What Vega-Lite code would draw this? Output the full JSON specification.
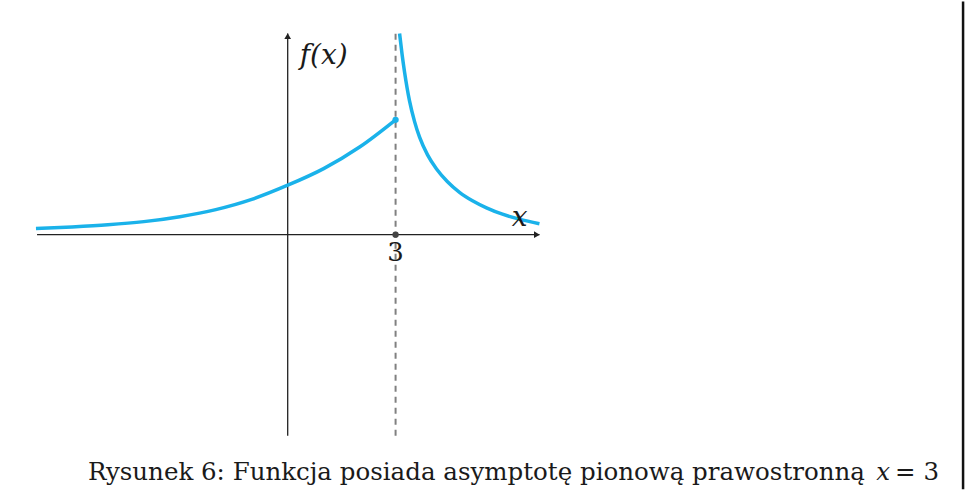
{
  "$schema": "https://vega.github.io/schema/vega-lite/v6.json",
  "width": 965,
  "height": 491,
  "autosize": {"type": "fit", "contains": "padding"},
  "padding": 0,
  "background": "white",
  "config": {"view": {"stroke": null}},
  "datasets": {
    "curve": [
      {"seg": "left", "x": -7, "y": 0.175},
      {"seg": "left", "x": -6, "y": 0.22},
      {"seg": "left", "x": -5, "y": 0.28},
      {"seg": "left", "x": -4, "y": 0.37},
      {"seg": "left", "x": -3, "y": 0.51},
      {"seg": "left", "x": -2, "y": 0.71},
      {"seg": "left", "x": -1, "y": 1.0},
      {"seg": "left", "x": 0, "y": 1.4},
      {"seg": "left", "x": 1, "y": 1.87},
      {"seg": "left", "x": 2, "y": 2.48},
      {"seg": "left", "x": 3, "y": 3.25},
      {"seg": "right", "x": 3.111, "y": 5.694},
      {"seg": "right", "x": 3.181, "y": 5.1},
      {"seg": "right", "x": 3.25, "y": 4.6},
      {"seg": "right", "x": 3.389, "y": 3.78},
      {"seg": "right", "x": 3.528, "y": 3.2},
      {"seg": "right", "x": 3.667, "y": 2.76},
      {"seg": "right", "x": 3.889, "y": 2.26},
      {"seg": "right", "x": 4.139, "y": 1.86},
      {"seg": "right", "x": 4.444, "y": 1.5},
      {"seg": "right", "x": 4.778, "y": 1.2},
      {"seg": "right", "x": 5.139, "y": 0.96},
      {"seg": "right", "x": 5.528, "y": 0.76},
      {"seg": "right", "x": 5.972, "y": 0.58},
      {"seg": "right", "x": 6.444, "y": 0.44},
      {"seg": "right", "x": 7.0, "y": 0.31}
    ],
    "axes": [
      {"x": -6.97, "y": 0, "x2": 7.0, "y2": 0},
      {"x": 0, "y": -5.69, "x2": 0, "y2": 5.69}
    ],
    "asym": [
      {"x": 3, "y": -5.69, "x2": 3, "y2": 5.69}
    ],
    "border": [
      {"x": 18.78, "y": -7.2, "x2": 18.78, "y2": 6.6}
    ],
    "arrows": [
      {"x": 6.93, "y": 0, "shape": "triangle-right"},
      {"x": 0, "y": 5.62, "shape": "triangle-up"}
    ],
    "dots": [
      {"x": 3, "y": 3.25, "kind": "value"},
      {"x": 3, "y": 0, "kind": "axis"}
    ],
    "italiclabels": [
      {"x": 1.0, "y": 5.05, "text": "f(x)"},
      {"x": 6.45, "y": 0.47, "text": "x"}
    ],
    "uprightlabels": [
      {"x": 3.0, "y": -0.52, "text": "3"}
    ],
    "caption": [
      {"x": -5.556, "y": -6.75, "text": "Rysunek 6: Funkcja posiada asymptotę pionową prawostronną"}
    ],
    "captionx": [
      {"x": 16.56, "y": -6.75, "text": "x"}
    ],
    "captioneq": [
      {"x": 18.11, "y": -6.75, "text": "= 3"}
    ]
  },
  "encoding": {
    "x": {"field": "x", "type": "quantitative", "scale": {"domain": [-8, 18.806], "nice": false, "zero": false}, "axis": null},
    "y": {"field": "y", "type": "quantitative", "scale": {"domain": [-7.111, 6.528], "nice": false, "zero": false}, "axis": null}
  },
  "layer": [
    {
      "data": {"name": "asym"},
      "mark": {"type": "rule", "color": "#808080", "strokeWidth": 2, "strokeDash": [6, 5]},
      "encoding": {"x2": {"field": "x2"}, "y2": {"field": "y2"}}
    },
    {
      "data": {"name": "axes"},
      "mark": {"type": "rule", "color": "#222222", "strokeWidth": 1.3},
      "encoding": {"x2": {"field": "x2"}, "y2": {"field": "y2"}}
    },
    {
      "data": {"name": "border"},
      "mark": {"type": "rule", "color": "#111111", "strokeWidth": 2.5},
      "encoding": {"x2": {"field": "x2"}, "y2": {"field": "y2"}}
    },
    {
      "data": {"name": "arrows"},
      "mark": {"type": "point", "filled": true, "color": "#222222", "size": 45, "opacity": 1},
      "encoding": {"shape": {"field": "shape", "type": "nominal", "scale": null, "legend": null}}
    },
    {
      "data": {"name": "curve"},
      "mark": {"type": "line", "color": "#1ab2ea", "strokeWidth": 3.5, "interpolate": "monotone", "clip": true},
      "encoding": {"detail": {"field": "seg", "type": "nominal"}, "order": {"field": "x", "type": "quantitative"}}
    },
    {
      "data": {"name": "dots"},
      "mark": {"type": "point", "filled": true, "opacity": 1, "size": 40},
      "encoding": {
        "color": {"field": "kind", "type": "nominal", "scale": {"domain": ["value", "axis"], "range": ["#1ab2ea", "#444444"]}, "legend": null}
      }
    },
    {
      "data": {"name": "italiclabels"},
      "mark": {"type": "text", "font": "DejaVu Serif", "fontStyle": "italic", "fontSize": 28, "color": "#1a1a1a", "align": "center", "baseline": "middle"},
      "encoding": {"text": {"field": "text"}}
    },
    {
      "data": {"name": "uprightlabels"},
      "mark": {"type": "text", "font": "DejaVu Serif", "fontSize": 26, "color": "#1a1a1a", "align": "center", "baseline": "middle"},
      "encoding": {"text": {"field": "text"}}
    },
    {
      "data": {"name": "caption"},
      "mark": {"type": "text", "font": "DejaVu Serif", "fontSize": 24.5, "color": "#1a1a1a", "align": "left", "baseline": "middle"},
      "encoding": {"text": {"field": "text"}}
    },
    {
      "data": {"name": "captionx"},
      "mark": {"type": "text", "font": "DejaVu Serif", "fontStyle": "italic", "fontSize": 24.5, "color": "#1a1a1a", "align": "center", "baseline": "middle"},
      "encoding": {"text": {"field": "text"}}
    },
    {
      "data": {"name": "captioneq"},
      "mark": {"type": "text", "font": "DejaVu Serif", "fontSize": 24.5, "color": "#1a1a1a", "align": "right", "baseline": "middle"},
      "encoding": {"text": {"field": "text"}}
    }
  ]
}
